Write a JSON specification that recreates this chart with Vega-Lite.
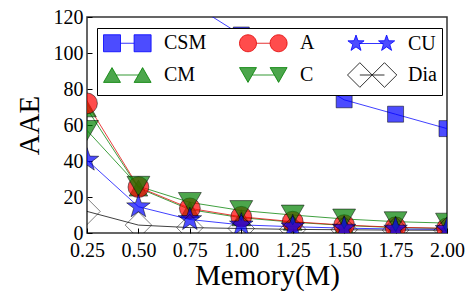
{
  "$schema": "https://vega.github.io/schema/vega-lite/v6.json",
  "width": 360,
  "height": 216,
  "autosize": "none",
  "padding": {"left": 87, "top": 17, "right": 20, "bottom": 60},
  "config": {
    "font": "Liberation Serif",
    "view": {"stroke": "#333333", "strokeWidth": 1.5},
    "axis": {
      "grid": false,
      "domain": false,
      "labelFont": "Liberation Serif",
      "labelFontSize": 20,
      "labelColor": "black",
      "labelFlush": false,
      "labelOverlap": false,
      "labelBound": false,
      "titleFont": "Liberation Serif",
      "titleFontSize": 29,
      "titleFontWeight": "normal",
      "titleColor": "black",
      "tickColor": "black",
      "tickSize": -5
    },
    "legend": {
      "labelFont": "Liberation Serif",
      "orient": "none",
      "columns": 3,
      "columnPadding": 30,
      "rowPadding": 6,
      "padding": 5,
      "strokeColor": "black",
      "fillColor": "white",
      "labelFontSize": 20,
      "labelColor": "black",
      "labelOffset": 42,
      "labelLimit": 200,
      "symbolSize": 289,
      "symbolStrokeWidth": 1
    }
  },
  "data": {
    "values": [
      {"m": 0.25, "series": "CSM", "v": 260},
      {"m": 0.5, "series": "CSM", "v": 175},
      {"m": 0.75, "series": "CSM", "v": 128},
      {"m": 1.0, "series": "CSM", "v": 110},
      {"m": 1.25, "series": "CSM", "v": 91},
      {"m": 1.5, "series": "CSM", "v": 74},
      {"m": 1.75, "series": "CSM", "v": 66},
      {"m": 2.0, "series": "CSM", "v": 58},
      {"m": 0.25, "series": "CM", "v": 69},
      {"m": 0.5, "series": "CM", "v": 25},
      {"m": 0.75, "series": "CM", "v": 13},
      {"m": 1.0, "series": "CM", "v": 8.5},
      {"m": 1.25, "series": "CM", "v": 6},
      {"m": 1.5, "series": "CM", "v": 4.2},
      {"m": 1.75, "series": "CM", "v": 3},
      {"m": 2.0, "series": "CM", "v": 2.5},
      {"m": 0.25, "series": "A", "v": 72},
      {"m": 0.5, "series": "A", "v": 25.5},
      {"m": 0.75, "series": "A", "v": 13.7},
      {"m": 1.0, "series": "A", "v": 9},
      {"m": 1.25, "series": "A", "v": 6.3},
      {"m": 1.5, "series": "A", "v": 4.4},
      {"m": 1.75, "series": "A", "v": 3.2},
      {"m": 2.0, "series": "A", "v": 2.6},
      {"m": 0.25, "series": "C", "v": 57},
      {"m": 0.5, "series": "C", "v": 26},
      {"m": 0.75, "series": "C", "v": 17},
      {"m": 1.0, "series": "C", "v": 12.5},
      {"m": 1.25, "series": "C", "v": 10},
      {"m": 1.5, "series": "C", "v": 7.8},
      {"m": 1.75, "series": "C", "v": 6.3},
      {"m": 2.0, "series": "C", "v": 5.5},
      {"m": 0.25, "series": "CU", "v": 40.5},
      {"m": 0.5, "series": "CU", "v": 14.6},
      {"m": 0.75, "series": "CU", "v": 7.5},
      {"m": 1.0, "series": "CU", "v": 4.5},
      {"m": 1.25, "series": "CU", "v": 3.5},
      {"m": 1.5, "series": "CU", "v": 2.7},
      {"m": 1.75, "series": "CU", "v": 2.2},
      {"m": 2.0, "series": "CU", "v": 2.0},
      {"m": 0.25, "series": "Dia", "v": 12},
      {"m": 0.5, "series": "Dia", "v": 4.4},
      {"m": 0.75, "series": "Dia", "v": 3},
      {"m": 1.0, "series": "Dia", "v": 2.5},
      {"m": 1.25, "series": "Dia", "v": 2.0},
      {"m": 1.5, "series": "Dia", "v": 1.8},
      {"m": 1.75, "series": "Dia", "v": 1.6},
      {"m": 2.0, "series": "Dia", "v": 1.5}
    ]
  },
  "encoding": {
    "x": {
      "field": "m",
      "type": "quantitative",
      "scale": {"domain": [0.25, 2.0], "nice": false, "zero": false},
      "axis": {"title": "Memory(M)", "values": [0.25, 0.5, 0.75, 1.0, 1.25, 1.5, 1.75, 2.0], "format": ".2f", "labelPadding": 12, "titlePadding": 1}
    },
    "y": {
      "field": "v",
      "type": "quantitative",
      "scale": {"domain": [0, 120], "nice": false},
      "axis": {"title": "AAE", "values": [0, 20, 40, 60, 80, 100, 120], "labelPadding": 9, "titlePadding": 9}
    }
  },
  "layer": [
    {
      "mark": {"type": "line", "strokeWidth": 1, "strokeOpacity": 0.75, "clip": true},
      "encoding": {
        "stroke": {
          "field": "series",
          "type": "nominal",
          "scale": {"domain": ["CSM", "CM", "A", "C", "CU", "Dia"], "range": ["#0000ff", "#008000", "#e00000", "#008000", "#0000ff", "#000000"]},
          "legend": {
            "title": null, "legendX": 10, "legendY": 11,
            "encoding": {"symbols": {
              "shape": {"value": {"expr": "datum.value === 'CSM' ? 'M-1,-1H1V1H-1Z M2.6,-1H4.6V1H2.6Z M1,0H2.6' : datum.value === 'A' ? 'M-1,0A1,1,0,1,1,1,0A1,1,0,1,1,-1,0Z M2.6,0A1,1,0,1,1,4.6,0A1,1,0,1,1,2.6,0Z M1,0H2.6' : datum.value === 'CU' ? 'M0,-1L0.235,-0.324L0.951,-0.309L0.38,0.124L0.588,0.809L0,0.4L-0.588,0.809L-0.38,0.124L-0.951,-0.309L-0.235,-0.324Z M3.6,-1L3.835,-0.324L4.551,-0.309L3.98,0.124L4.188,0.809L3.6,0.4L3.012,0.809L3.22,0.124L2.649,-0.309L3.365,-0.324Z M0.38,0H3.22' : datum.value === 'CM' ? 'M-1,0.87L0,-0.87L1,0.87Z M2.6,0.87L3.6,-0.87L4.6,0.87Z M0.5,0H3.1' : datum.value === 'C' ? 'M-1,-0.87L0,0.87L1,-0.87Z M2.6,-0.87L3.6,0.87L4.6,-0.87Z M0.5,0H3.1' : 'M-1,0L0.45,-1.45L1.9,0L0.45,1.45Z M1.9,0L3.35,-1.45L4.8,0L3.35,1.45Z M0.45,0H3.35'"}},
              "fill": {"value": {"expr": "scale('fill', datum.value)"}},
              "fillOpacity": {"value": 0.7},
              "strokeOpacity": {"value": 0.8},
              "strokeWidth": {"value": 1},
              "size": {"value": 289},
              "opacity": {"value": 1}
            }}
          }
        }
      }
    },
    {
      "mark": {"type": "point", "filled": true, "clip": true, "opacity": 1, "fillOpacity": 0.7, "stroke": "black", "strokeOpacity": 0.5, "strokeWidth": 1},
      "encoding": {
        "fill": {
          "field": "series",
          "type": "nominal",
          "scale": {"domain": ["Dia", "CU", "C", "A", "CM", "CSM"], "range": ["transparent", "#0000ff", "#008000", "#ff0000", "#008000", "#0000ff"]},
          "legend": null
        },
        "size": {
          "field": "series",
          "type": "nominal",
          "scale": {"domain": ["Dia", "CU", "C", "A", "CM", "CSM"], "range": [700, 256, 330, 330, 330, 330]},
          "legend": null
        },
        "shape": {
          "field": "series",
          "type": "nominal",
          "scale": {"domain": ["Dia", "CU", "C", "A", "CM", "CSM"], "range": ["diamond", "M0,-1L0.235,-0.324L0.951,-0.309L0.38,0.124L0.588,0.809L0,0.4L-0.588,0.809L-0.38,0.124L-0.951,-0.309L-0.235,-0.324Z", "triangle-down", "circle", "triangle-up", "square"]},
          "legend": null
        }
      }
    }
  ]
}
